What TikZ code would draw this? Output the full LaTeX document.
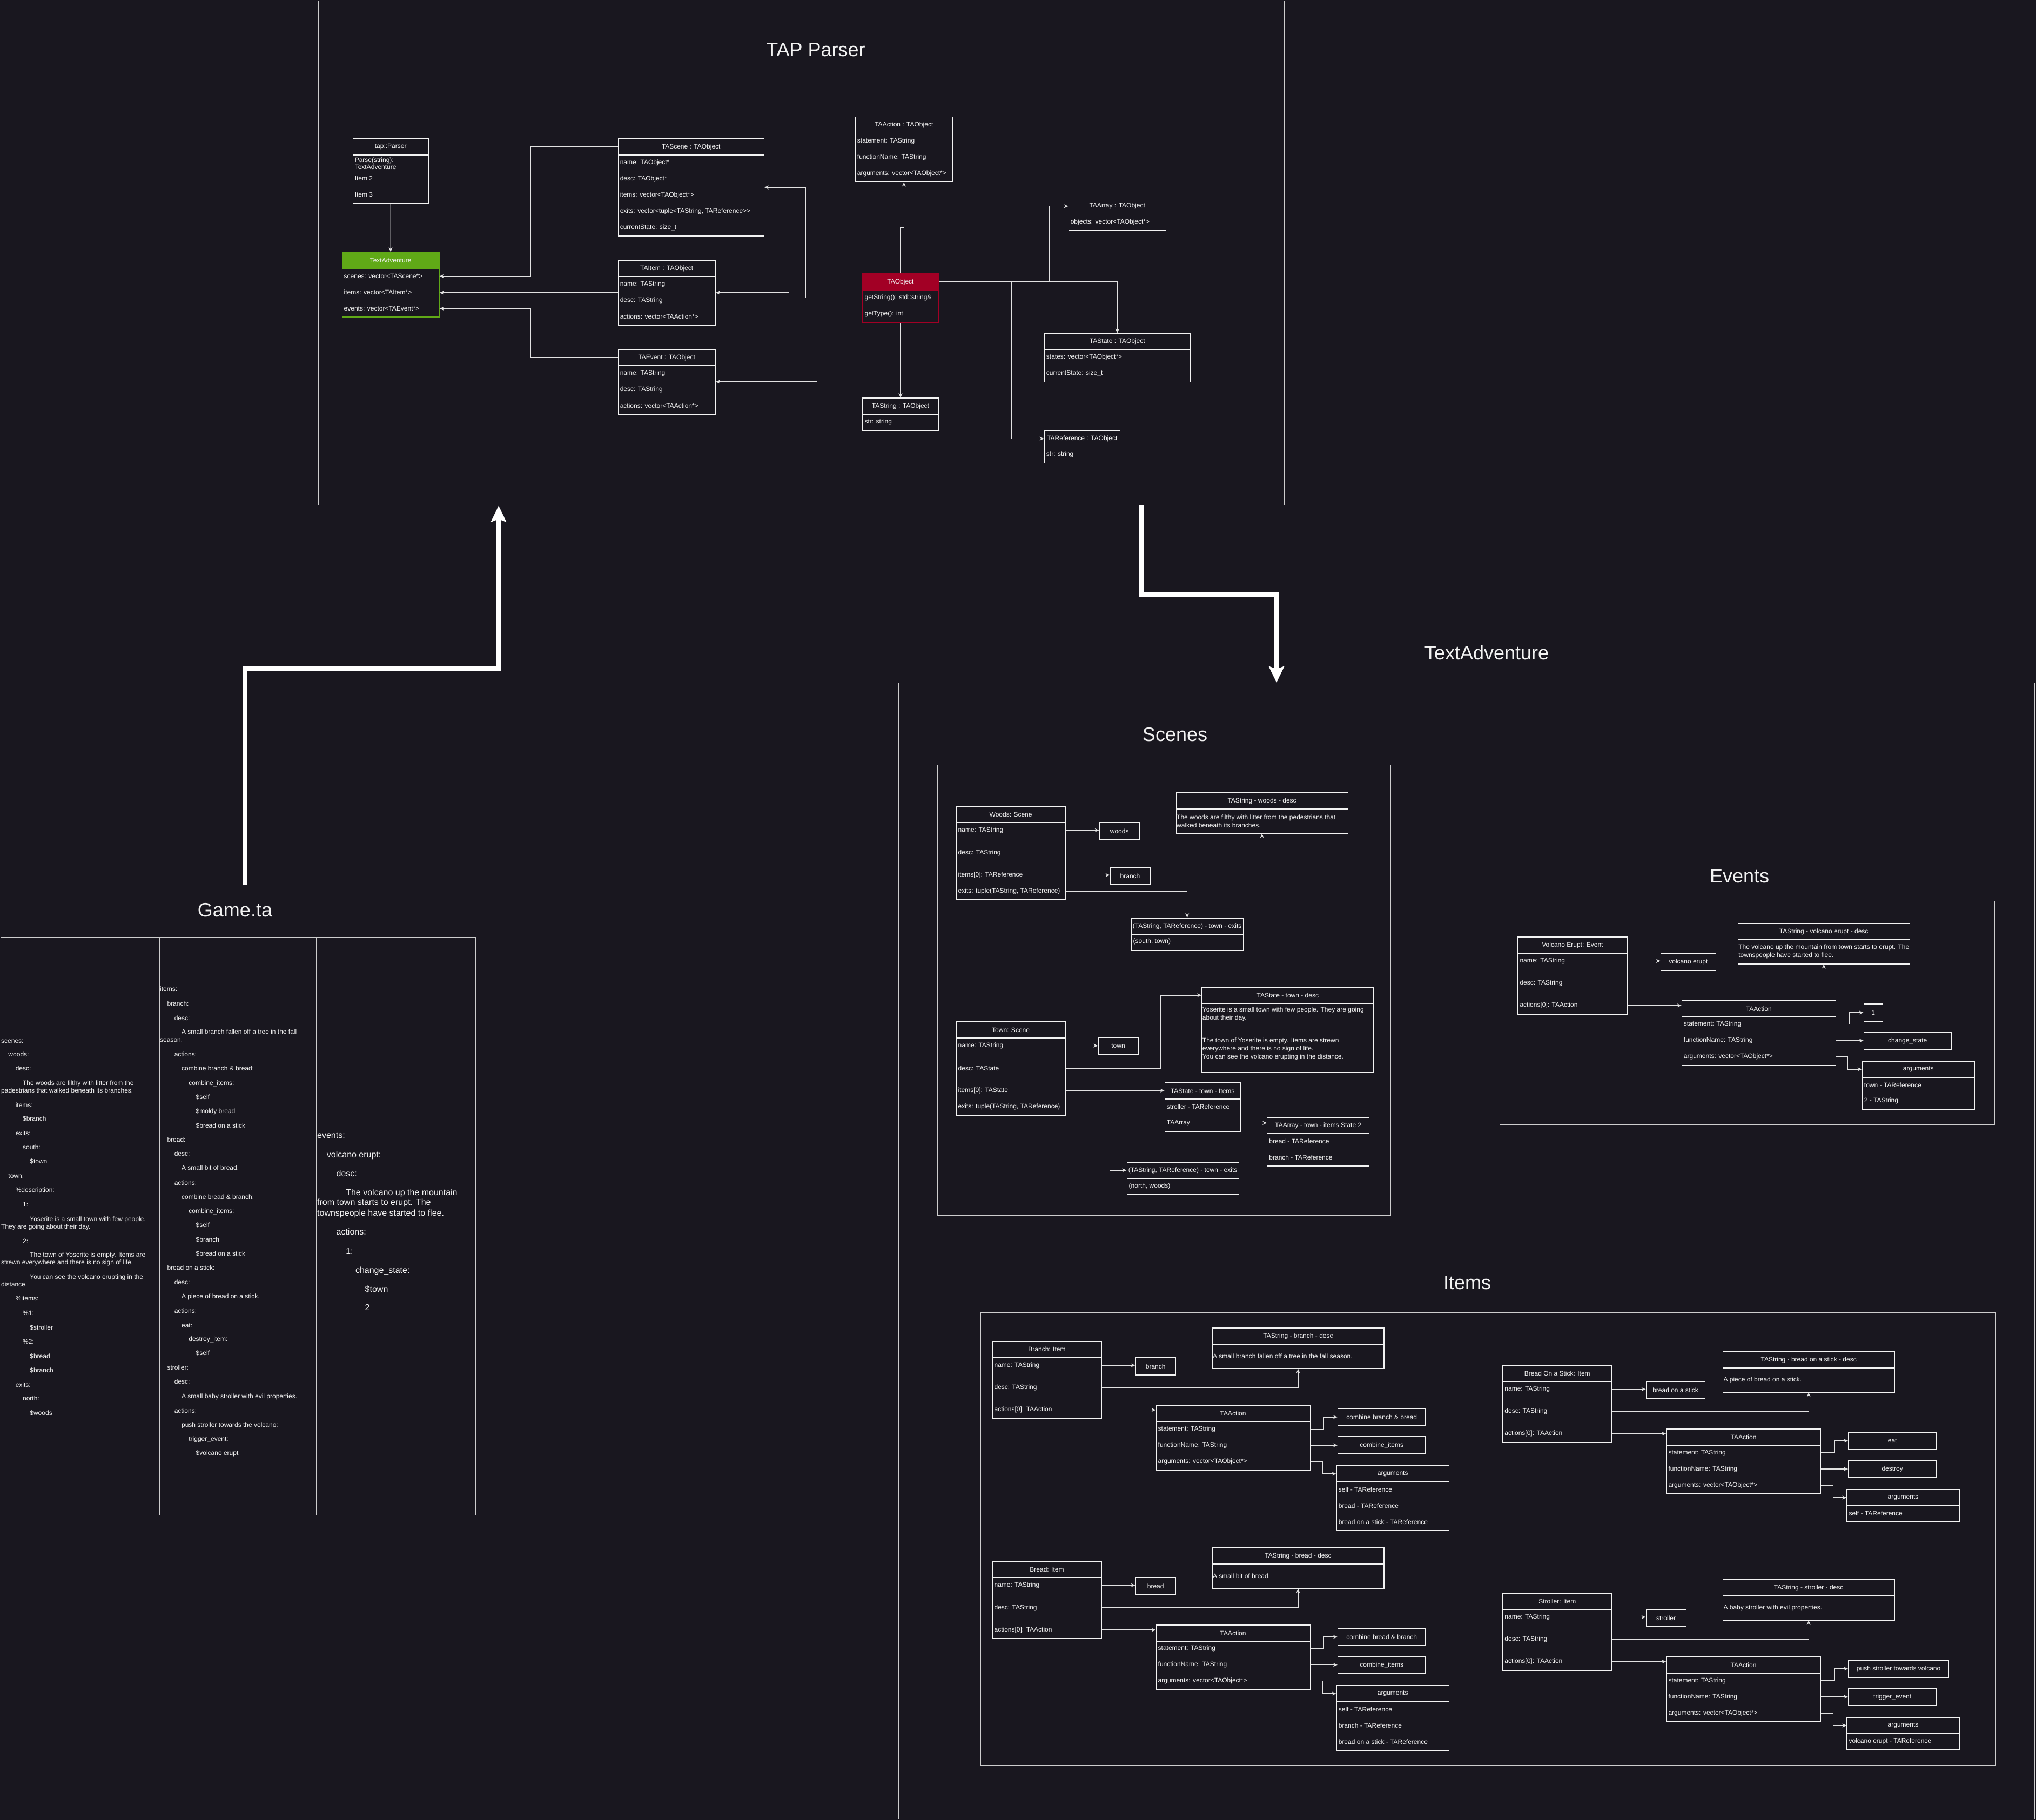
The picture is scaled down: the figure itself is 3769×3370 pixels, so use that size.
\documentclass[tikz,border=0pt]{standalone}
\usepackage{fontspec}
\setmainfont{Liberation Sans}
\usetikzlibrary{arrows.meta,calc}
\definecolor{bg}{RGB}{25,23,31}
\definecolor{fg}{RGB}{242,242,242}
\definecolor{lc}{RGB}{225,225,225}
\definecolor{fc}{RGB}{205,205,205}
\definecolor{tagreen}{RGB}{96,169,23}
\definecolor{tared}{RGB}{162,0,37}
\newcommand\ufont{\fontsize{12}{15}\selectfont}
\newcounter{gl}
% UML box: name, x, y, w, h, header h, title, rows (cy/text)
\newcommand\ubox[8]{%
 \node[uframe, minimum width=#4, minimum height=#5, anchor=north west] (#1) at (#2,#3) {};
 \node[uhead, minimum width=#4, minimum height=#6, anchor=north west] (#1-h) at (#2,#3) {#7};
 \foreach \cy/\tx [count=\i] in {#8} {
   \node[urow, anchor=west] (#1-\i) at (#2,#3+\cy) {\tx};
 }%
}
% text box: name, x, y, w, h, title, cy, text
\newcommand\dbox[8]{%
 \node[uframe, minimum width=#4, minimum height=#5, anchor=north west] (#1) at (#2,#3) {};
 \node[uhead, minimum width=#4, minimum height=30, anchor=north west] (#1-h) at (#2,#3) {#6};
 \node[drow, anchor=west] (#1-1) at (#2,#3+#7) {#8};
}
\newcommand\grpconn[3]{%
 \coordinate (#1j1) at (#2,0);
 \coordinate (#1j2) at (#3,0);
 \draw[conn] (#1.east |- #1-1) -- (#1-1 -| #1n.west);
 \draw[conn] (#1.east |- #1-2) -| (#1d.south);
 \draw[conn] (#1.east |- #1-3) -- (#1-3 -| #1a.west);
 \draw[conn] (#1a.east |- #1a-1) -- (#1a-1 -| #1j1) |- (#1s.west);
 \draw[conn] (#1a.east |- #1a-2) -- (#1a-2 -| #1f.west);
 \draw[conn] (#1a.east |- #1a-3) -- (#1a-3 -| #1j2) |- (#1g-h.west);
}
\newcommand\ga[3]{\stepcounter{gl}\node[gtext] (gl\arabic{gl}) at ({2+13.3*#1},{#2+3.5}) {#3};}
\newcommand\gb[3]{\stepcounter{gl}\node[gtext] (gl\arabic{gl}) at ({296+13.3*#1},{#2+3.5}) {#3};}
\newcommand\gc[3]{\stepcounter{gl}\node[gtextc] (gl\arabic{gl}) at ({587+17.7*#1},{#2+4.5}) {#3};}

\begin{document}
\begin{tikzpicture}[x=1pt,y=-1pt,
 uframe/.style={draw=fg, line width=1.2pt, inner sep=0pt},
 uhead/.style={draw=fg, line width=1.2pt, inner sep=0pt, font=\ufont, text=fg},
 urow/.style={inner xsep=4pt, inner ysep=0pt, font=\ufont, text=fg, align=left},
 drow/.style={inner xsep=1.5pt, inner ysep=0pt, font=\ufont, text=fg, align=left},
 vbox/.style={draw=fg, line width=1.2pt, inner sep=0pt, font=\ufont, text=fg, anchor=north west, minimum height=32},
 conn/.style={draw=lc, line width=1.2pt, -{Stealth[length=8pt,width=7pt]}},
 grpframe/.style={draw=fc, line width=1.3pt, inner sep=0pt},
 tline/.style={draw=fc, line width=1.3pt},
 biglbl/.style={font=\fontsize{36}{40}\selectfont, text=fg},
 bigarrow/.style={draw=white, line width=8pt, -{Stealth[length=30pt,width=28pt,inset=5pt]}},
 gtext/.style={inner sep=0pt, font=\fontsize{12}{14}\selectfont, text=fg, anchor=base west},
 gtextc/.style={inner sep=0pt, font=\fontsize{16}{18}\selectfont, text=fg, anchor=base west}]
\useasboundingbox (0,0) rectangle (3769,3370);
\fill[bg] (0,0) rectangle (3769,3370);

% ---------- frames ----------
\node[grpframe, minimum width=1788, minimum height=934, anchor=north west] (tap) at (589,1) {};
\node[grpframe, minimum width=2103, minimum height=2104, anchor=north west] (tadvframe) at (1663,1264) {};
\node[grpframe, minimum width=839, minimum height=834, anchor=north west] (scframe) at (1735,1416) {};
\node[grpframe, minimum width=916, minimum height=414, anchor=north west] (evframe) at (2776,1668) {};
\node[grpframe, minimum width=1879, minimum height=839, anchor=north west] (itframe) at (1815,2430) {};
\node[grpframe, minimum width=879, minimum height=1070, anchor=north west] (gtab) at (0.7,1735) {};
\coordinate (gc1) at (296,0);
\coordinate (gc2) at (586,0);
\draw[tline] (gtab.north -| gc1) -- (gtab.south -| gc1);
\draw[tline] (gtab.north -| gc2) -- (gtab.south -| gc2);

% ---------- labels ----------
\node[biglbl] (taplbl) at (1510,92) {TAP Parser};
\node[biglbl] (gamelbl) at (435,1685) {Game.ta};
\node[biglbl] (talbl) at (2752,1209) {TextAdventure};
\node[biglbl] (sclbl) at (2175,1360) {Scenes};
\node[biglbl] (evlbl) at (3220,1622) {Events};
\node[biglbl] (itlbl) at (2716,2375) {Items};

% ---------- big arrows ----------
\coordinate (gs) at (454,1639);
\coordinate (gk) at (923,1238);
\draw[bigarrow] (gs) |- (gk) -- (gk |- tap.south);
\coordinate (dk1) at (2113,1101);
\coordinate (dk2) at (2363,1101);
\draw[bigarrow] (tap.south -| dk1) -- (dk1) -- (dk2) -- (dk2 |- tadvframe.north);

% ---------- TAP parser ----------
\node[uframe, minimum width=140, minimum height=120, anchor=north west] (parser) at (652.6,256.4) {};
\node[uhead, minimum width=140, minimum height=30, anchor=north west] (parser-h) at (652.6,256.4) {tap::Parser};
\node[urow, anchor=west, font=\fontsize{12}{13}\selectfont] (parser-1) at (652.6,302.5) {Parse(string):\\TextAdventure};
\node[urow, anchor=west] (parser-2) at (652.6,330.7) {Item 2};
\node[urow, anchor=west] (parser-3) at (652.6,360.7) {Item 3};

\begin{scope}[uframe/.append style={draw=tagreen}, uhead/.append style={draw=tagreen, fill=tagreen}]
\ubox{tadv}{632.5}{466.4}{180}{120}{30}{TextAdventure}{45/{scenes: vector<TAScene*>}, 75/{items: vector<TAItem*>}, 105/{events: vector<TAEvent*>}}
\end{scope}
\ubox{tascene}{1143.6}{256.4}{270}{180}{30}{TAScene : TAObject}{45/{name: TAObject*}, 75/{desc: TAObject*}, 105/{items: vector<TAObject*>}, 135/{exits: vector<tuple<TAString, TAReference>{}>}, 165/{currentState: size\_t}}
\ubox{taitem}{1143.6}{481.4}{180}{120}{30}{TAItem : TAObject}{45/{name: TAString}, 75/{desc: TAString}, 105/{actions: vector<TAAction*>}}
\ubox{taevent}{1143.6}{646.4}{180}{120}{30}{TAEvent : TAObject}{45/{name: TAString}, 75/{desc: TAString}, 105/{actions: vector<TAAction*>}}
\ubox{taact}{1582.7}{216.2}{180}{120}{30}{TAAction : TAObject}{45/{statement: TAString}, 75/{functionName: TAString}, 105/{arguments: vector<TAObject*>}}
\begin{scope}[uframe/.append style={draw=tared}, uhead/.append style={draw=tared, fill=tared}]
\ubox{taobj}{1596.4}{506.4}{140}{90}{30}{TAObject}{45/{getString(): std::string\&}, 75/{getType(): int}}
\end{scope}
\ubox{taarray}{1977.6}{366.2}{180}{60}{30}{TAArray : TAObject}{45/{objects: vector<TAObject*>}}
\ubox{tastate}{1932.7}{616.7}{270}{90}{30}{TAState : TAObject}{45/{states: vector<TAObject*>}, 75/{currentState: size\_t}}
\ubox{tastr}{1596.4}{736.3}{140}{60}{30}{TAString : TAObject}{45/{str: string}}
\ubox{taref}{1932.7}{796.6}{140}{60}{30}{TAReference : TAObject}{45/{str: string}}

\coordinate (J983) at (982.6,0);
\coordinate (J1492) at (1491.8,0);
\coordinate (J1460) at (1460.2,0);
\coordinate (J1512) at (1512.2,0);
\coordinate (J421) at (0,421.4);
\coordinate (J1942) at (1942.3,0);
\coordinate (J1872) at (1872.4,0);
\draw[conn] (parser.south) -- (tadv.north);
\draw[conn] (tascene-h.west) -- (tascene-h.west -| J983) |- (tadv.east |- tadv-1);
\draw[conn] (taitem.west) -- (taitem.west -| tadv.east);
\draw[conn] (taevent-h.west) -- (taevent-h.west -| J983) |- (tadv.east |- tadv-3);
\draw[conn] (taobj.west |- taobj-1) -- (taobj-1 -| J1492) |- (tascene.east);
\draw[conn] (taobj.west |- taobj-1) -- (taobj-1 -| J1460) |- (taitem.east);
\draw[conn] (taobj.west |- taobj-1) -- (taobj-1 -| J1512) |- (taevent.east);
\draw[conn] (taobj.north) -- (taobj.north |- J421) -- (J421 -| taact.south) -- (taact.south);
\draw[conn] (taobj-h.east) -| (tastate.north);
\draw[conn] (taobj-h.east -| J1942) |- (taarray-h.west);
\draw[conn] (taobj-h.east -| J1872) |- (taref-h.west);
\draw[conn] (taobj.south) -- (tastr.north);

% ---------- Scenes ----------
\ubox{scW}{1769.5}{1492.3}{202}{173}{30}{Woods: Scene}{45/{name: TAString}, 87/{desc: TAString}, 128/{items[0]: TAReference}, 158/{exits: tuple(TAString, TAReference)}}
\node[vbox, minimum width=74] (scWn) at (2034.6,1522.3) {woods};
\dbox{scWd}{2176.5}{1467.3}{318}{75}{TAString - woods - desc}{52.9}{The woods are filthy with litter from the pedestrians that\\walked beneath its branches.}
\node[vbox, minimum width=74] (scWb) at (2054.4,1605.3) {branch};
\ubox{scWe}{2093.5}{1699.3}{207}{60}{30}{(TAString, TAReference) - town - exits}{44/{(south, town)}}
\draw[conn] (scW.east |- scW-1) -- (scW-1 -| scWn.west);
\draw[conn] (scW.east |- scW-2) -| (scWd.south);
\draw[conn] (scW.east |- scW-3) -- (scW-3 -| scWb.west);
\draw[conn] (scW.east |- scW-4) -| (scWe.north);

\ubox{scT}{1769.5}{1891.3}{202}{173}{30}{Town: Scene}{45/{name: TAString}, 87/{desc: TAState}, 128/{items[0]: TAState}, 158/{exits: tuple(TAString, TAReference)}}
\node[vbox, minimum width=74] (scTn) at (2032.4,1920.3) {town};
\dbox{scTd}{2224.2}{1827.3}{318}{158}{TAState - town - desc}{87}{Yoserite is a small town with few people. They are going\\about their day.\\[27pt]The town of Yoserite is empty. Items are strewn\\everywhere and there is no sign of life.\\You can see the volcano erupting in the distance.}
\ubox{scTi}{2155.6}{2004.3}{140}{90}{30}{TAState - town - Items}{45/{stroller - TAReference}, 75/{TAArray}}
\ubox{scTa}{2345.2}{2068.3}{189}{90}{30}{TAArray - town - items State 2}{45/{bread - TAReference}, 75/{branch - TAReference}}
\ubox{scTe}{2085.5}{2151.3}{207}{60}{30}{(TAString, TAReference) - town - exits}{45/{(north, woods)}}
\coordinate (J2148) at (2148.1,0);
\coordinate (J2054) at (2054.4,0);
\draw[conn] (scT.east |- scT-1) -- (scT-1 -| scTn.west);
\draw[conn] (scT.east |- scT-2) -- (scT-2 -| J2148) |- (scTd-h.west);
\draw[conn] (scT.east |- scT-3) -- (scT-3 -| scTi.west);
\draw[conn] (scTi.east |- scTi-2) -- (scTi-2 -| scTa.west);
\draw[conn] (scT.east |- scT-4) -- (scT-4 -| J2054) |- (scTe-h.west);

% ---------- Events ----------
\ubox{ev}{2809.3}{1734.3}{202}{143}{30}{Volcano Erupt: Event}{45/{name: TAString}, 86.4/{desc: TAString}, 127.4/{actions[0]: TAAction}}
\node[vbox, minimum width=101.5] (evn) at (3074,1764.3) {volcano erupt};
\dbox{evd}{3216.6}{1709.3}{318}{75}{TAString - volcano erupt - desc}{52.8}{The volcano up the mountain from town starts to erupt. The\\townspeople have started to flee.}
\ubox{eva}{3112.7}{1852.3}{285}{120}{30}{TAAction}{44.4/{statement: TAString}, 74.4/{functionName: TAString}, 104.4/{arguments: vector<TAObject*>}}
\node[vbox, minimum width=35] (evs) at (3449.6,1858.3) {1};
\node[vbox, minimum width=162] (evf) at (3449.6,1910.3) {change\_state};
\ubox{evg}{3446.7}{1964.3}{208}{90}{30}{arguments}{44.4/{town - TAReference}, 74.4/{2 - TAString}}
\grpconn{ev}{3423.8}{3420.8}

% ---------- Items ----------
% Branch
\ubox{ib}{1836.4}{2483}{202}{143}{30}{Branch: Item}{45/{name: TAString}, 86.7/{desc: TAString}, 127.7/{actions[0]: TAAction}}
\node[vbox, minimum width=74] (ibn) at (2101.6,2513.3) {branch};
\dbox{ibd}{2243.4}{2458.3}{318}{75}{TAString - branch - desc}{52.7}{A small branch fallen off a tree in the fall season.}
\ubox{iba}{2139.5}{2601.7}{285}{120}{30}{TAAction}{44.4/{statement: TAString}, 74.4/{functionName: TAString}, 104.4/{arguments: vector<TAObject*>}}
\node[vbox, minimum width=162.5] (ibs) at (2475.9,2607.3) {combine branch \& bread};
\node[vbox, minimum width=162.5] (ibf) at (2475.9,2659.3) {combine\_items};
\ubox{ibg}{2473.6}{2713.3}{208}{120}{30}{arguments}{44.4/{self - TAReference}, 74.4/{bread - TAReference}, 104.4/{bread on a stick - TAReference}}
\grpconn{ib}{2450}{2448.4}

% Bread
\ubox{ir}{1836.4}{2890.3}{202}{143}{30}{Bread: Item}{45/{name: TAString}, 86.7/{desc: TAString}, 127.7/{actions[0]: TAAction}}
\node[vbox, minimum width=74] (irn) at (2101.6,2920.3) {bread};
\dbox{ird}{2243.4}{2865.3}{318}{75}{TAString - bread - desc}{52.7}{A small bit of bread.}
\ubox{ira}{2139.5}{3008.3}{285}{120}{30}{TAAction}{44.4/{statement: TAString}, 74.4/{functionName: TAString}, 104.4/{arguments: vector<TAObject*>}}
\node[vbox, minimum width=162.5] (irs) at (2475.9,3014.3) {combine bread \& branch};
\node[vbox, minimum width=162.5] (irf) at (2475.9,3066.3) {combine\_items};
\ubox{irg}{2473.6}{3120.3}{208}{120}{30}{arguments}{44.4/{self - TAReference}, 74.4/{branch - TAReference}, 104.4/{bread on a stick - TAReference}}
\grpconn{ir}{2450}{2448.4}

% Bread on a stick
\ubox{io}{2781.2}{2527.3}{202}{143}{30}{Bread On a Stick: Item}{45/{name: TAString}, 86.4/{desc: TAString}, 127.4/{actions[0]: TAAction}}
\node[vbox, minimum width=109] (ion) at (3046.5,2557.3) {bread on a stick};
\dbox{iod}{3188.8}{2502.3}{317.5}{75}{TAString - bread on a stick - desc}{52.7}{A piece of bread on a stick.}
\ubox{ioa}{3084.3}{2645.3}{285.3}{120}{30}{TAAction}{44.7/{statement: TAString}, 74.7/{functionName: TAString}, 104.7/{arguments: vector<TAObject*>}}
\node[vbox, minimum width=162.5] (ios) at (3421.3,2651.3) {eat};
\node[vbox, minimum width=162.5] (iof) at (3421.3,2703.3) {destroy};
\ubox{iog}{3418.4}{2757.3}{208}{60}{30}{arguments}{44.7/{self - TAReference}}
\grpconn{io}{3395.5}{3393.8}

% Stroller
\ubox{is}{2781.2}{2949.3}{202}{143}{30}{Stroller: Item}{45/{name: TAString}, 86.4/{desc: TAString}, 127.4/{actions[0]: TAAction}}
\node[vbox, minimum width=74] (isn) at (3046.5,2979.3) {stroller};
\dbox{isd}{3188.8}{2924.3}{317.5}{75}{TAString - stroller - desc}{52.7}{A baby stroller with evil properties.}
\ubox{isa}{3084.3}{3067.3}{285.3}{120}{30}{TAAction}{44.7/{statement: TAString}, 74.7/{functionName: TAString}, 104.7/{arguments: vector<TAObject*>}}
\node[vbox, minimum width=185.4] (iss) at (3421.3,3073.3) {push stroller towards volcano};
\node[vbox, minimum width=162.5] (isf) at (3421.3,3125.3) {trigger\_event};
\ubox{isg}{3418.4}{3179.3}{208}{60}{30}{arguments}{44.7/{volcano erupt - TAReference}}
\grpconn{is}{3395.5}{3393.8}

% ---------- Game.ta column 1 ----------
\ga{0}{1927.6}{scenes:}
\ga{1}{1952.8}{woods:}
\ga{2}{1979}{desc:}
\ga{3}{2005.6}{The woods are filthy with litter from the}
\ga{0}{2019.6}{padestrians that walked beneath its branches.}
\ga{2}{2046.6}{items:}
\ga{3}{2072.4}{\$branch}
\ga{2}{2098.7}{exits:}
\ga{3}{2125}{south:}
\ga{4}{2151}{\$town}
\ga{1}{2177.9}{town:}
\ga{2}{2204}{\%description:}
\ga{3}{2230.6}{1:}
\ga{4}{2257.6}{Yoserite is a small town with few people.}
\ga{0}{2271.6}{They are going about their day.}
\ga{3}{2298.5}{2:}
\ga{4}{2324.3}{The town of Yoserite is empty. Items are}
\ga{0}{2338.4}{strewn everywhere and there is no sign of life.}
\ga{4}{2365.3}{You can see the volcano erupting in the}
\ga{0}{2379.3}{distance.}
\ga{2}{2405}{\%items:}
\ga{3}{2432}{\%1:}
\ga{4}{2458.5}{\$stroller}
\ga{3}{2485.4}{\%2:}
\ga{4}{2511.8}{\$bread}
\ga{4}{2538}{\$branch}
\ga{2}{2564.5}{exits:}
\ga{3}{2590.3}{north:}
\ga{4}{2617.3}{\$woods}

% ---------- Game.ta column 2 ----------
\gb{0}{1832.2}{items:}
\gb{1}{1859.1}{branch:}
\gb{2}{1885.5}{desc:}
\gb{3}{1911.3}{A small branch fallen off a tree in the fall}
\gb{0}{1926.3}{season.}
\gb{2}{1952.7}{actions:}
\gb{3}{1979}{combine branch \& bread:}
\gb{4}{2006}{combine\_items:}
\gb{5}{2031.8}{\$self}
\gb{5}{2058.2}{\$moldy bread}
\gb{5}{2084.6}{\$bread on a stick}
\gb{1}{2111}{bread:}
\gb{2}{2137.3}{desc:}
\gb{3}{2163}{A small bit of bread.}
\gb{2}{2190.7}{actions:}
\gb{3}{2216.5}{combine bread \& branch:}
\gb{4}{2243.4}{combine\_items:}
\gb{5}{2269.2}{\$self}
\gb{5}{2295.6}{\$branch}
\gb{5}{2322}{\$bread on a stick}
\gb{1}{2348.3}{bread on a stick:}
\gb{2}{2374.7}{desc:}
\gb{3}{2401}{A piece of bread on a stick.}
\gb{2}{2427.5}{actions:}
\gb{3}{2454.5}{eat:}
\gb{4}{2480.2}{destroy\_item:}
\gb{5}{2506}{\$self}
\gb{1}{2533}{stroller:}
\gb{2}{2559.4}{desc:}
\gb{3}{2586.4}{A small baby stroller with evil properties.}
\gb{2}{2612.7}{actions:}
\gb{3}{2638.5}{push stroller towards the volcano:}
\gb{4}{2664.9}{trigger\_event:}
\gb{5}{2691.3}{\$volcano erupt}

% ---------- Game.ta column 3 ----------
\gc{0}{2102.7}{events:}
\gc{1}{2139}{volcano erupt:}
\gc{2}{2174}{desc:}
\gc{3}{2208.7}{The volcano up the mountain}
\gc{0}{2227.3}{from town starts to erupt. The}
\gc{0}{2246.7}{townspeople have started to flee.}
\gc{2}{2282.3}{actions:}
\gc{3}{2317.7}{1:}
\gc{4}{2352.7}{change\_state:}
\gc{5}{2387.7}{\$town}
\gc{5}{2422.3}{2}
\end{tikzpicture}
\end{document}
